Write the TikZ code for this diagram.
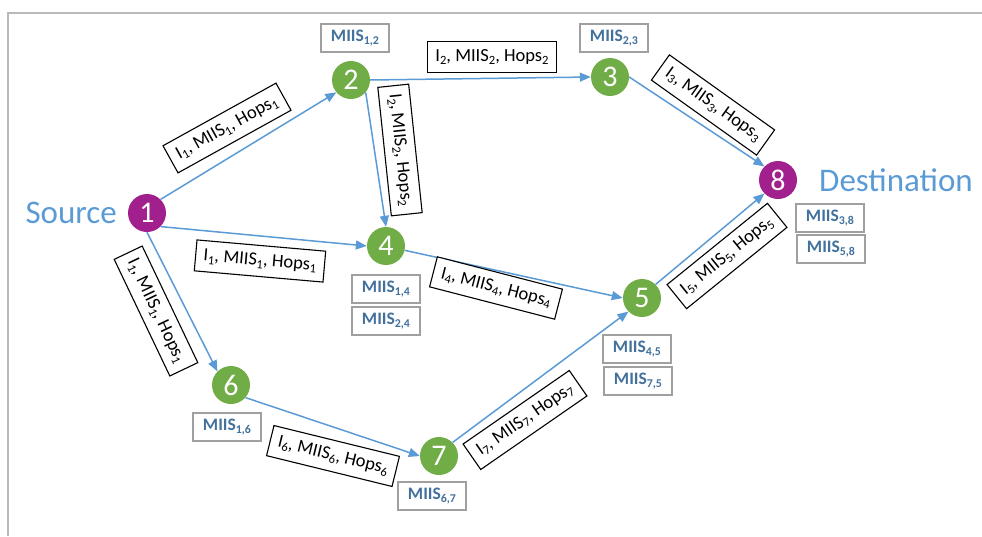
\documentclass[tikz,border=0pt]{standalone}
\usepackage{fontspec}
\setmainfont{Carlito}
\usetikzlibrary{arrows.meta}

\definecolor{nodepurple}{RGB}{162,32,142}
\definecolor{nodegreen}{RGB}{112,173,71}
\definecolor{linkblue}{RGB}{91,155,213}
\definecolor{tagblue}{RGB}{65,113,156}
\definecolor{framegray}{RGB}{185,185,185}
\definecolor{tagframe}{RGB}{160,160,160}

\tikzset{
  hop/.style={circle, minimum size=38pt, inner sep=0pt, text=white,
    font=\fontsize{30}{30}\selectfont},
  relay/.style={hop, fill=nodegreen},
  endpoint/.style={hop, fill=nodepurple},
  link/.style={draw=linkblue, line width=1.5pt,
    -{Triangle[length=11pt,width=9pt]}},
  msg/.style={draw=black, fill=white, line width=1.1pt, inner xsep=8pt,
    inner ysep=0pt, minimum height=31pt, font=\fontsize{18.5}{20}\selectfont},
  tag/.style={draw=tagframe, line width=1.1pt, fill=white, text=tagblue,
    inner xsep=5pt, inner ysep=0pt, minimum height=28pt, minimum width=68pt,
    font=\bfseries\fontsize{17.5}{20}\selectfont},
  place/.style={text=linkblue, inner sep=0pt, font=\fontsize{33}{36}\selectfont}
}

% lowered index at a fixed fraction of the running size
\newcommand{\lowidx}[1]{\raisebox{-0.35ex}{\scalebox{0.68}{#1}}}
\newcommand{\msgtext}[1]{I\lowidx{#1}, MIIS\lowidx{#1}, Hops\lowidx{#1}}
\newcommand{\tagtext}[1]{MIIS\lowidx{#1}}

\begin{document}
\begin{tikzpicture}[x=1pt, y=-1pt]
  \useasboundingbox (0,0) rectangle (982,536);

  % frame
  \draw[framegray, line width=1.5pt] (8,536) -- (8,13) -- (982,13);

  % network nodes
  \node[endpoint] (n1) at (147,213) {1};
  \node[relay]    (n2) at (351,80)  {2};
  \node[relay]    (n3) at (610,77)  {3};
  \node[relay]    (n4) at (386,246) {4};
  \node[relay]    (n5) at (642,298) {5};
  \node[relay]    (n6) at (231,385) {6};
  \node[relay]    (n7) at (439,456) {7};
  \node[endpoint] (n8) at (778,180) {8};

  \node[place, anchor=east] (src) at (117,213) {Source};
  \node[place, anchor=west] (dst) at (819,180) {Destination};

  % links
  \draw[link] (n1.45)  -- (n2.220);
  \draw[link] (n1.-45) -- (n4.west);
  \draw[link] (n1.south) -- (n6.135);
  \draw[link] (n2.east) -- (n3.west);
  \draw[link] (n2.-40) -- (n4.north);
  \draw[link] (n3.east) -- (n8.135);
  \draw[link] (n4.-13) -- (n5.west);
  \draw[link] (n6.-41) -- (n7.west);
  \draw[link] (n7.45)  -- (n5.225);
  \draw[link] (n5.45)  -- (n8.225);

  % messages on the links
  \node[msg, rotate=29]    (m12) at (227,128) {\msgtext{1}};
  \node[msg]               (m23) at (492,57)  {\msgtext{2}};
  \node[msg, rotate=-84]   (m24) at (400,150) {\msgtext{2}};
  \node[msg, rotate=-35.5] (m38) at (713,105) {\msgtext{3}};
  \node[msg, rotate=-5]    (m14) at (260,261) {\msgtext{1}};
  \node[msg, rotate=-64.5] (m16) at (156,311) {\msgtext{1}};
  \node[msg, rotate=-14.5] (m45) at (496,288) {\msgtext{4}};
  \node[msg, rotate=39]    (m58) at (727,256) {\msgtext{5}};
  \node[msg, rotate=-13.8] (m67) at (333,456) {\msgtext{6}};
  \node[msg, rotate=34.7]  (m75) at (525,420) {\msgtext{7}};

  % stored MIIS values
  \node[tag] (t12) at (355,38)  {\tagtext{1,2}};
  \node[tag] (t23) at (614,38)  {\tagtext{2,3}};
  \node[tag] (t38) at (830,218) {\tagtext{3,8}};
  \node[tag] (t58) at (831,249) {\tagtext{5,8}};
  \node[tag] (t14) at (386,289) {\tagtext{1,4}};
  \node[tag] (t24) at (386,321) {\tagtext{2,4}};
  \node[tag] (t45) at (637,349) {\tagtext{4,5}};
  \node[tag] (t75) at (638,381) {\tagtext{7,5}};
  \node[tag] (t16) at (227,427) {\tagtext{1,6}};
  \node[tag] (t67) at (432,496) {\tagtext{6,7}};
\end{tikzpicture}
\end{document}
